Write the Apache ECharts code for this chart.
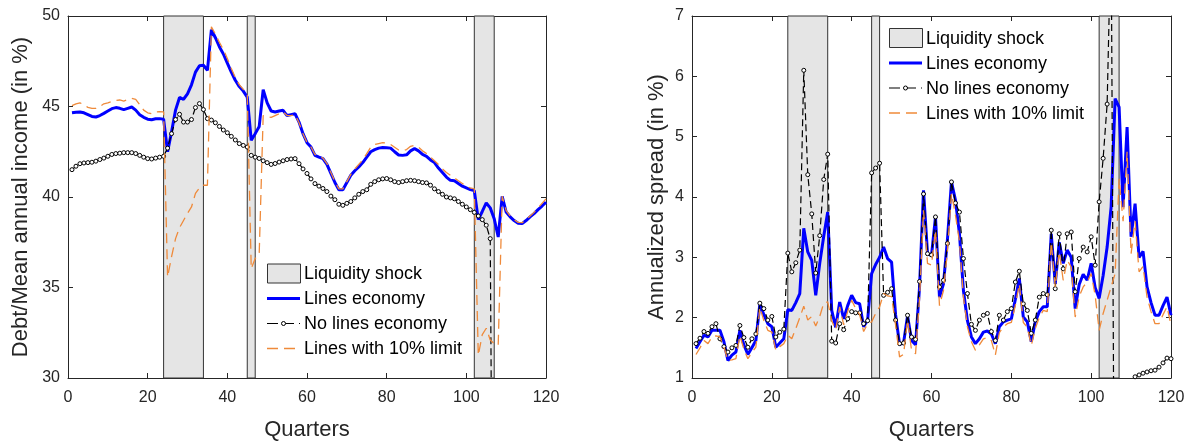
<!DOCTYPE html>
<html>
<head>
<meta charset="utf-8">
<script src="https://cdn.jsdelivr.net/npm/echarts@6/dist/echarts.min.js"></script>
<style>
  html, body { margin: 0; padding: 0; background: #ffffff; }
  #chart { width: 1190px; height: 443px; }
</style>
</head>
<body>
<div id="chart"></div>
<script>
// Quarters 1..120 on the horizontal axis of both panels
const quarters = Array.from({ length: 120 }, (_, i) => i + 1);

// Liquidity shock windows (start quarter, end quarter)
const shockPeriods = [[24, 34], [45, 47], [102, 107]];

// Debt / mean annual income (in %)
const debtLines = [
  44.65, 44.68, 44.70, 44.65, 44.55, 44.45, 44.42, 44.50, 44.62, 44.75,
  44.88, 44.94, 44.90, 44.83, 44.90, 44.97, 44.80, 44.55, 44.40, 44.30,
  44.27, 44.32, 44.33, 44.30, 42.50, 43.60, 44.80, 45.50, 45.40, 45.70,
  46.20, 46.90, 47.25, 47.28, 47.00, 49.25, 48.80, 48.30, 47.90, 47.40,
  46.90, 46.45, 46.10, 45.85, 45.52, 43.13, 43.50, 43.90, 45.93, 45.20,
  44.75, 44.70, 44.75, 44.79, 44.50, 44.55, 44.60, 44.14, 43.50, 43.00,
  42.76, 42.30, 42.20, 42.12, 41.80, 41.30, 40.80, 40.40, 40.40, 40.80,
  41.20, 41.45, 41.66, 41.90, 42.20, 42.50, 42.62, 42.70, 42.73, 42.72,
  42.70, 42.50, 42.32, 42.30, 42.33, 42.55, 42.67, 42.55, 42.35, 42.25,
  42.05, 41.90, 41.60, 41.35, 41.10, 40.92, 40.90, 40.75, 40.60, 40.50,
  40.41, 40.35, 38.75, 39.20, 39.67, 39.40, 38.80, 37.79, 40.04, 39.17,
  38.90, 38.70, 38.55, 38.53, 38.70, 38.90, 39.08, 39.30, 39.50, 39.72
];
const debtNoLines = [
  41.51, 41.70, 41.84, 41.88, 41.90, 41.92, 41.98, 42.07, 42.15, 42.25,
  42.35, 42.40, 42.42, 42.45, 42.45, 42.45, 42.40, 42.30, 42.20, 42.12,
  42.10, 42.15, 42.20, 42.25, 42.70, 43.50, 44.28, 44.57, 44.14, 44.14,
  44.28, 44.94, 45.16, 44.83, 44.33, 44.25, 44.10, 43.90, 43.70, 43.55,
  43.35, 43.15, 42.95, 42.85, 42.76, 42.30, 42.20, 42.13, 42.00, 41.90,
  41.80, 41.85, 41.93, 42.00, 42.07, 42.10, 42.12, 41.84, 41.55, 41.30,
  41.00, 40.74, 40.60, 40.47, 40.30, 40.05, 39.85, 39.60, 39.54, 39.65,
  39.75, 39.95, 40.15, 40.30, 40.40, 40.70, 40.85, 40.95, 41.00, 41.02,
  40.95, 40.85, 40.80, 40.85, 40.90, 40.92, 40.90, 40.85, 40.80, 40.78,
  40.65, 40.45, 40.30, 40.15, 40.00, 39.95, 39.90, 39.75, 39.60, 39.45,
  39.30, 39.15, 38.95, 38.75, 38.44, 37.70, 5.00, null, null, null,
  null, null, null, null, null, null, null, null, null, null
];
const debtLimit = [
  45.05, 45.15, 45.20, 45.10, 44.95, 44.90, 44.90, 45.00, 45.15, 45.20,
  45.28, 45.33, 45.36, 45.30, 45.38, 45.45, 45.40, 45.10, 44.80, 44.65,
  44.60, 44.70, 44.72, 44.70, 35.58, 36.70, 37.70, 38.30, 38.70, 39.10,
  39.45, 40.20, 40.50, 40.65, 40.65, 49.40, 49.00, 48.55, 48.15, 47.65,
  47.10, 46.60, 46.20, 45.95, 45.70, 36.04, 36.60, 36.87, 44.50, 44.45,
  44.40, 44.50, 44.60, 44.70, 44.50, 44.50, 44.55, 44.10, 43.50, 43.00,
  42.76, 42.35, 42.25, 42.15, 41.85, 41.35, 40.85, 40.45, 40.45, 40.85,
  41.25, 41.55, 41.80, 42.05, 42.40, 42.75, 42.90, 42.95, 43.00, 42.98,
  42.90, 42.75, 42.60, 42.55, 42.62, 42.80, 42.85, 42.75, 42.55, 42.40,
  42.20, 42.00, 41.80, 41.55, 41.35, 41.20, 41.05, 40.90, 40.75, 40.60,
  40.50, 40.45, 31.25, 32.40, 32.75, 32.10, 31.90, 31.80, 40.04, 39.25,
  38.95, 38.75, 38.60, 38.58, 38.75, 38.95, 39.15, 39.40, 39.65, 39.90
];

// Annualized spread (in %)
const spreadLines = [
  1.49, 1.60, 1.71, 1.68, 1.79, 1.79, 1.79, 1.60, 1.29, 1.38,
  1.43, 1.79, 1.55, 1.39, 1.50, 1.62, 2.23, 2.05, 1.90, 1.85,
  1.51, 1.58, 1.65, 2.13, 2.12, 2.25, 2.40, 3.48, 3.09, 2.95,
  2.37, 2.90, 3.35, 3.75, 2.12, 1.84, 2.26, 1.98, 2.20, 2.37,
  2.25, 2.23, 1.85, 1.96, 2.73, 2.88, 3.00, 3.17, 2.98, 2.92,
  2.05, 1.56, 1.58, 2.03, 1.62, 1.55, 2.50, 4.11, 3.06, 3.03,
  3.67, 2.34, 2.56, 3.30, 4.25, 3.95, 3.39, 2.45, 1.95, 1.68,
  1.57, 1.65, 1.76, 1.78, 1.73, 1.57, 1.85, 1.93, 1.96, 1.98,
  2.30, 2.65, 2.01, 1.93, 1.60, 1.93, 2.10, 2.18, 2.18, 3.39,
  2.56, 3.25, 2.90, 3.12, 3.00, 2.15, 2.55, 2.72, 2.62, 2.90,
  2.50, 2.32, 2.70, 3.17, 3.83, 5.63, 5.49, 3.83, 5.16, 3.34,
  3.89, 3.00, 3.10, 2.51, 2.25, 2.04, 2.04, 2.20, 2.34, 2.04
];
const spreadNoLines = [
  1.57, 1.66, 1.77, 1.74, 1.85, 1.90, 1.65, 1.52, 1.43, 1.50,
  1.54, 1.87, 1.67, 1.51, 1.65, 1.73, 2.24, 2.15, 1.96, 2.02,
  1.68, 1.76, 1.81, 3.07, 2.76, 2.91, 3.12, 6.10, 4.37, 3.72,
  2.74, 3.36, 4.29, 4.71, 1.61, 1.58, 1.90, 1.80, 1.98, 2.10,
  2.08, 2.08, 1.90, 1.95, 4.40, 4.48, 4.56, 2.37, 2.42, 2.48,
  1.96, 1.57, 1.58, 2.04, 1.68, 1.64, 2.60, 4.05, 3.06, 3.04,
  3.67, 2.51, 2.62, 3.23, 4.25, 3.90, 3.75, 2.98, 2.40, 1.89,
  1.79, 1.96, 2.04, 2.07, 1.77, 1.62, 2.04, 1.96, 2.10, 2.15,
  2.59, 2.77, 2.23, 2.12, 1.74, 1.96, 2.34, 2.40, 2.38, 3.45,
  2.48, 3.39, 2.81, 3.39, 3.42, 2.43, 2.98, 3.17, 3.09, 3.34,
  2.87, 3.92, 4.64, 5.54, 8.50, -4.00, -3.00, -1.50, -0.50, 0.30,
  1.02, 1.05, 1.08, 1.10, 1.12, 1.13, 1.18, 1.25, 1.33, 1.32
];
const spreadLimit = [
  1.39, 1.50, 1.62, 1.57, 1.68, 1.70, 1.68, 1.51, 1.29, 1.30,
  1.32, 1.70, 1.48, 1.32, 1.42, 1.51, 2.17, 1.95, 1.79, 1.76,
  1.46, 1.52, 1.57, 1.71, 1.65, 1.82, 2.00, 2.19, 1.96, 2.02,
  1.86, 2.02, 2.24, 2.26, 1.95, 1.80, 2.18, 1.88, 2.10, 2.29,
  2.15, 2.05, 1.77, 1.90, 1.93, 2.07, 2.18, 2.40, 2.36, 2.35,
  1.88, 1.35, 1.39, 1.96, 1.46, 1.40, 2.30, 3.78, 2.90, 2.87,
  3.45, 2.20, 2.45, 3.10, 4.06, 3.70, 3.26, 2.34, 1.85, 1.60,
  1.46, 1.55, 1.65, 1.67, 1.62, 1.38, 1.75, 1.85, 1.90, 1.92,
  2.20, 2.56, 1.92, 1.84, 1.54, 1.82, 2.00, 2.12, 2.10, 3.25,
  2.51, 3.09, 2.62, 2.95, 2.84, 2.01, 2.35, 2.51, 2.59, 2.73,
  2.37, 1.79, 2.07, 2.29, 2.51, 2.73, 4.30, 3.60, 4.75, 3.06,
  3.60, 2.76, 2.85, 2.34, 2.10, 1.90, 1.90, 2.05, 2.18, 1.88
];

const xTicks = { min: 0, max: 120, interval: 20 };
const debtTicks = { min: 30, max: 50, interval: 5 };
const spreadTicks = { min: 1, max: 7, interval: 1 };

const legendNames = ['Liquidity shock', 'Lines economy', 'No lines economy', 'Lines with 10% limit'];

const FONT = 'Liberation Sans, Arial, Helvetica, sans-serif';
const AXIS_COLOR = '#262626';
const BLUE = '#0000ff';
const ORANGE = '#ef8a3a';
const SHADE = '#e5e5e5';

const pairs = (values) => quarters.map((q, i) => [q, values[i]]);

function boxAxis(ticks, extra) {
  return Object.assign({
    type: 'value',
    min: ticks.min, max: ticks.max, interval: ticks.interval,
    axisLine: { show: true, onZero: false, lineStyle: { color: AXIS_COLOR, width: 1 } },
    axisTick: { show: true, inside: true, length: 5, lineStyle: { color: AXIS_COLOR, width: 1 } },
    axisLabel: { show: true, color: AXIS_COLOR, fontSize: 16, fontFamily: FONT, margin: 8 },
    splitLine: { show: false },
    nameTextStyle: { color: AXIS_COLOR, fontSize: 22, fontFamily: FONT }
  }, extra || {});
}

// Fixed plot rectangles; outer labels are allowed to sit outside them
const grids = [
  { left: 68, top: 16, width: 478, height: 362, containLabel: false, outerBoundsMode: 'none' },
  { left: 692, top: 16, width: 479, height: 362, containLabel: false, outerBoundsMode: 'none' }
];

const xLabel = { show: true, color: AXIS_COLOR, fontSize: 16, fontFamily: FONT, margin: 12 };

const xAxes = [];
const yAxes = [];
[0, 1].forEach((g) => {
  xAxes.push(boxAxis(xTicks, { gridIndex: g, position: 'bottom', axisLabel: xLabel,
    name: 'Quarters', nameLocation: 'middle', nameGap: 41 }));
  xAxes.push(boxAxis(xTicks, { gridIndex: g, position: 'top', axisLabel: { show: false } }));
});
yAxes.push(boxAxis(debtTicks, { gridIndex: 0, position: 'left', name: 'Debt/Mean annual income (in %)', nameLocation: 'middle', nameGap: 36 }));
yAxes.push(boxAxis(debtTicks, { gridIndex: 0, position: 'right', axisLabel: { show: false } }));
yAxes.push(boxAxis(spreadTicks, { gridIndex: 1, position: 'left', name: 'Annualized spread (in %)', nameLocation: 'middle', nameGap: 24 }));
yAxes.push(boxAxis(spreadTicks, { gridIndex: 1, position: 'right', axisLabel: { show: false } }));

function shockSeries(xi, yi) {
  return {
    name: legendNames[0], type: 'line', xAxisIndex: xi, yAxisIndex: yi, data: [], z: 1, silent: true,
    markArea: {
      silent: true,
      itemStyle: { color: SHADE, borderColor: '#333333', borderWidth: 1 },
      data: shockPeriods.map(([a, b]) => [{ xAxis: a }, { xAxis: b }])
    }
  };
}

function panelSeries(xi, yi, lines, noLines, limit) {
  return [
    shockSeries(xi, yi),
    {
      name: legendNames[1], type: 'line', xAxisIndex: xi, yAxisIndex: yi, data: pairs(lines),
      showSymbol: false, symbol: 'none', z: 2, clip: true,
      lineStyle: { color: BLUE, width: 3 }
    },
    {
      name: legendNames[2], type: 'line', xAxisIndex: xi, yAxisIndex: yi, data: pairs(noLines),
      symbol: 'circle', symbolSize: 4, showAllSymbol: true, z: 3, clip: true, connectNulls: false,
      lineStyle: { color: '#000000', width: 1.2, type: [7, 4] },
      itemStyle: { color: '#ffffff', borderColor: '#000000', borderWidth: 1 }
    },
    {
      name: legendNames[3], type: 'line', xAxisIndex: xi, yAxisIndex: yi, data: pairs(limit),
      showSymbol: false, symbol: 'none', z: 4, clip: true,
      lineStyle: { color: ORANGE, width: 1.3, type: [10, 6] }
    }
  ];
}

// Legend drawn as a small block of shapes and labels
function legendBlock(x, y, step) {
  const w = 33, tx = x + w + 4;
  const els = [];
  const rows = [y, y + step, y + 2 * step, y + 3 * step];
  els.push({ type: 'rect', shape: { x: x + 0.5, y: rows[0] - 9.5, width: w, height: 19 },
    style: { fill: SHADE, stroke: '#333333', lineWidth: 1 } });
  els.push({ type: 'line', shape: { x1: x, y1: rows[1], x2: x + w, y2: rows[1] },
    style: { stroke: BLUE, lineWidth: 3 } });
  els.push({ type: 'line', shape: { x1: x, y1: rows[2], x2: x + w, y2: rows[2] },
    style: { stroke: '#000000', lineWidth: 1.2, lineDash: [11, 5] } });
  els.push({ type: 'circle', shape: { cx: x + w / 2, cy: rows[2], r: 2 },
    style: { fill: '#ffffff', stroke: '#000000', lineWidth: 1 } });
  els.push({ type: 'line', shape: { x1: x, y1: rows[3], x2: x + w, y2: rows[3] },
    style: { stroke: ORANGE, lineWidth: 1.3, lineDash: [11, 6] } });
  legendNames.forEach((name, i) => {
    els.push({ type: 'text', x: tx, y: rows[i] + 1,
      style: { text: name, fill: '#000000', font: '18px ' + FONT, textVerticalAlign: 'middle', verticalAlign: 'middle' } });
  });
  return els;
}

const chart = echarts.init(document.getElementById('chart'), null, { renderer: 'canvas' });
chart.setOption({
  animation: false,
  backgroundColor: '#ffffff',
  textStyle: { fontFamily: FONT },
  grid: grids,
  xAxis: xAxes,
  yAxis: yAxes,
  series: [
    ...panelSeries(0, 0, debtLines, debtNoLines, debtLimit),
    ...panelSeries(2, 2, spreadLines, spreadNoLines, spreadLimit)
  ],
  graphic: [
    ...legendBlock(267, 273.5, 25),
    ...legendBlock(889, 38, 25)
  ]
});
</script>
</body>
</html>
